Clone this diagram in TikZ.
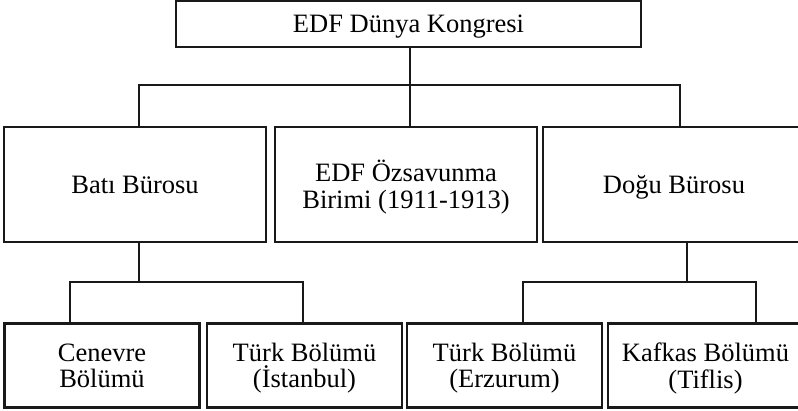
\documentclass[tikz,border=0pt]{standalone}
\usepackage{fontspec}
\setmainfont{Liberation Serif}
\usetikzlibrary{positioning}

\tikzset{
	unit/.style={draw=black!90, line width=2.8pt, align=center, inner sep=0pt, text depth=0pt,
		minimum width=262pt, minimum height=115pt, font=\fontsize{26.5}{26.5}\selectfont},
	section/.style={unit, minimum width=195pt, minimum height=84pt},
	link/.style={draw=black!90, line width=2.8pt}
}

\begin{document}
\begin{tikzpicture}[x=1pt,y=-1pt]

	\useasboundingbox (0,0) rectangle (798,410);

	%top
	\node[unit, minimum width=465pt, minimum height=46pt] (kongre) at (408.5,24) {EDF Dünya Kongresi};

	%bureaus
	\node[unit] (bati) at (135,184.5) {Batı Bürosu};
	\node[unit] (ozsav) at (406,184.5) {EDF Özsavunma\\Birimi (1911-1913)};
	\node[unit] (dogu) at (674,184.5) {Doğu Bürosu};

	%sections
	\node[section] (cenevre) at (102,365.5) {Cenevre\\Bölümü};
	\node[section] (istanbul) at (304.5,365.5) {Türk Bölümü\\(İstanbul)};
	\node[section] (erzurum) at (504.5,365.5) {Türk Bölümü\\(Erzurum)};
	\node[section] (tiflis) at (705.5,365.5) {Kafkas Bölümü\\(Tiflis)};

	%joints
	\coordinate (top) at (410,85);
	\coordinate (topl) at (139,85);
	\coordinate (topr) at (680,85);
	\coordinate (west) at (139,282);
	\coordinate (westl) at (70,282);
	\coordinate (westr) at (303,282);
	\coordinate (east) at (687,282);
	\coordinate (eastl) at (523,282);
	\coordinate (eastr) at (756,282);

	%lines
	\draw[link] (kongre.south -| top) -- (top); %congress down
	\draw[link] (topl |- bati.north) -- (topl) -- (topr) -- (topr |- dogu.north); %bureau bar
	\draw[link] (top) -- (top |- ozsav.north); %middle
	\draw[link] (west |- bati.south) -- (west); %west down
	\draw[link] (westl |- cenevre.north) -- (westl) -- (westr) -- (westr |- istanbul.north); %west bar
	\draw[link] (east |- dogu.south) -- (east); %east down
	\draw[link] (eastl |- erzurum.north) -- (eastl) -- (eastr) -- (eastr |- tiflis.north); %east bar
\end{tikzpicture}
\end{document}
